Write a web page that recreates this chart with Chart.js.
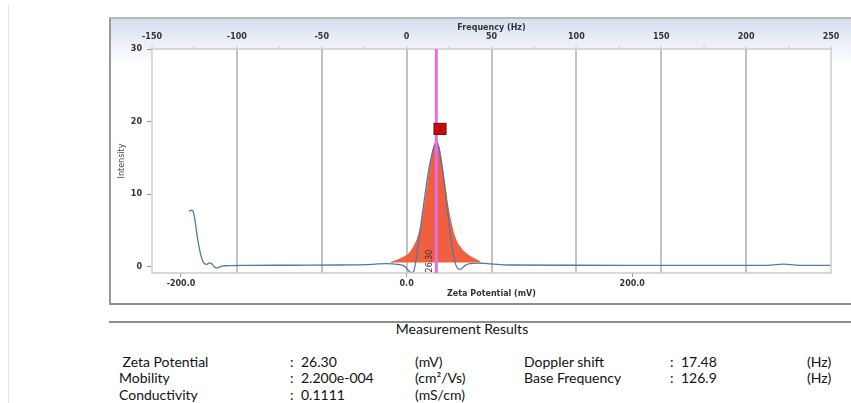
<!DOCTYPE html>
<html>
<head>
<meta charset="utf-8">
<script src="https://cdn.jsdelivr.net/npm/chart.js@4.4.1/dist/chart.umd.min.js"></script>
<style>
  body { margin:0; width:851px; height:403px; background:#fff; position:relative; overflow:hidden; font-family: Lato, "Open Sans", sans-serif; color:#111; }
  #edge { position:absolute; left:8px; top:5px; width:1px; height:398px; background:#e4e4e4; }
  #box { position:absolute; left:109px; top:17px; width:742px; height:288px; border-top:2px solid #b9b9b9; border-left:2px solid #9a9a9a; border-bottom:2px solid #8c8c8c; box-sizing:border-box; background:linear-gradient(#d6dfed 0px, #eaeff7 22px, #fff 48px); }
  #wrap { position:absolute; left:109px; top:18px; width:742px; height:285px; }
  #sep { position:absolute; left:109px; top:321px; width:742px; height:2px; background:#8e8e8e; }
  .t { position:absolute; font-size:14px; white-space:pre; line-height:16px; }
</style>
</head>
<body>
<div id="edge"></div>
<div id="box"></div>
<div id="wrap"><canvas id="zetaChart" width="742" height="285"></canvas></div>
<div id="sep"></div>
<div id="results"></div>
<script>
// ---- data ----
const hzToMv = 26.30 / 17.48;          // zeta potential per Hz of doppler shift
const freqMin = -150, freqMax = 250;
const zetaTicks = [-200, 0, 200];
const zetaPeak = 26.30;

// measured spectrum (blue line)
const curveZeta = [-192.9, -191, -189.5, -188, -186.5, -185, -183, -181, -179, -177, -175, -173, -171, -169, -167, -164, -160,
  -140, -100, -60, -30, -18, -12, -6, -2, 1, 4, 6, 8, 10, 13, 16, 19, 22, 24.5, 26.5, 28.5, 31, 33.5, 35.5, 37.5, 39.5,
  41.5, 43.5, 45.5, 47, 49, 52, 56, 62, 75, 90, 150, 250, 320, 328, 334, 340, 348, 376];
const curveIntensity = [7.6, 7.8, 7.7, 6.8, 5.2, 3.6, 2.0, 0.9, 0.4, 0.35, 0.55, 0.45, 0.1, -0.15, -0.1, 0.1, 0.15,
  0.2, 0.22, 0.25, 0.35, 0.45, 0.4, 0.3, 0.1, -0.4, -0.8, -0.7, 0.6, 2.8, 6.2, 9.6, 12.8, 15.2, 16.6, 17.0, 16.4, 14.2, 11.5, 8.8, 6.0, 3.5,
  1.6, 0.3, -0.25, -0.35, -0.2, 0.2, 0.45, 0.5, 0.4, 0.25, 0.22, 0.2, 0.2, 0.3, 0.38, 0.3, 0.2, 0.2];

// fitted peak (red area)
const peakZeta = [-14, -8, -2, 3, 7, 10, 13, 16, 19, 22, 24.5, 26.3, 28, 30.5, 33.5, 36.5, 40, 44, 48, 53, 58, 63, 65.6];
const peakIntensity = [0.6, 0.95, 1.4, 2.0, 3.0, 4.1, 5.9, 8.6, 11.8, 15.0, 16.8, 17.3, 16.9, 15.0, 11.6, 8.4, 5.6, 3.6, 2.6, 1.8, 1.3, 0.9, 0.6];
const peakBase = 0.6;

// peak marker "1"
const markerZeta = 29.6, markerIntensity = 19.0;

// results table
const leftLabels = [" Zeta Potential", "Mobility", "Conductivity"];
const leftValues = ["26.30", "2.200e-004", "0.1111"];
const leftUnits = ["(mV)", "(cm\u00b2/Vs)", "(mS/cm)"];
const rightLabels = ["Doppler shift", "Base Frequency"];
const rightValues = ["17.48", "126.9"];
const rightUnits = ["(Hz)", "(Hz)"];

Chart.defaults.font.family = "'DejaVu Sans', Verdana, sans-serif";

const overlay = {
  id: "overlay",
  beforeDraw(chart) {
    const { ctx, chartArea: a } = chart;
    ctx.save();
    ctx.fillStyle = "#fff";
    ctx.fillRect(a.left, a.top, a.right - a.left, a.bottom - a.top);
    ctx.restore();
  },
  afterDatasetsDraw(chart) {
    const { ctx, chartArea: a, scales } = chart;
    const px = scales.x.getPixelForValue(zetaPeak);
    ctx.save();
    ctx.strokeStyle = "#cdcdcd";
    ctx.lineWidth = 1.5;
    ctx.strokeRect(a.left, a.top, a.right - a.left, a.bottom - a.top);

    ctx.strokeStyle = "#e06ee6";
    ctx.lineWidth = 3;
    ctx.beginPath();
    ctx.moveTo(px, a.top);
    ctx.lineTo(px, a.bottom);
    ctx.stroke();

    // rotated peak value
    ctx.save();
    ctx.translate(px - 6, a.bottom - 12);
    ctx.rotate(-Math.PI / 2);
    ctx.fillStyle = "#333";
    ctx.font = "8px 'DejaVu Sans'";
    ctx.textAlign = "center";
    ctx.textBaseline = "middle";
    ctx.fillText(zetaPeak.toFixed(2), 0, 0);
    ctx.restore();

    // marker
    const mx = scales.x.getPixelForValue(markerZeta);
    const my = scales.y.getPixelForValue(markerIntensity);
    ctx.fillStyle = "#d30a0a";
    ctx.strokeStyle = "#6e0000";
    ctx.lineWidth = 1;
    ctx.fillRect(mx - 6, my - 5.5, 12, 11);
    ctx.strokeRect(mx - 6, my - 5.5, 12, 11);
    ctx.fillStyle = "#3a0000";
    ctx.font = "7px 'DejaVu Sans'";
    ctx.textAlign = "center";
    ctx.textBaseline = "middle";
    ctx.fillText("1", mx, my + 0.5);
    ctx.restore();
  }
};

const tickFont = { size: 8, weight: "bold" };

new Chart(document.getElementById("zetaChart"), {
  type: "line",
  data: {
    datasets: [
      {
        label: "curve",
        data: curveZeta.map((z, i) => ({ x: z, y: curveIntensity[i] })),
        borderColor: "#5677a4",
        borderWidth: 1.3,
        pointRadius: 0,
        fill: false,
        cubicInterpolationMode: "monotone",
        order: 0
      },
      {
        label: "peak",
        data: peakZeta.map((z, i) => ({ x: z, y: peakIntensity[i] })),
        borderColor: "#f0603f",
        backgroundColor: "#f0603f",
        borderWidth: 1,
        pointRadius: 0,
        fill: { value: peakBase },
        cubicInterpolationMode: "monotone",
        order: 1
      }
    ]
  },
  options: {
    responsive: false,
    animation: false,
    layout: { padding: { left: 0, top: 0, right: 20, bottom: 0 } },
    plugins: { legend: { display: false }, tooltip: { enabled: false } },
    scales: {
      x: {
        type: "linear",
        position: "bottom",
        min: freqMin * hzToMv,
        max: freqMax * hzToMv,
        afterBuildTicks: (s) => { s.ticks = zetaTicks.map((v) => ({ value: v })); },
        afterFit: (s) => { s.height = 30; },
        grid: { drawOnChartArea: false, drawTicks: true, tickLength: 4, tickColor: "#999" },
        border: { display: false },
        ticks: { autoSkip: false, maxRotation: 0, padding: 2,
          callback: (v) => Number(v).toFixed(1), font: tickFont, color: "#333" },
        title: { display: true, text: "Zeta Potential (mV)", padding: { top: 0, bottom: 4 }, font: tickFont, color: "#333" }
      },
      x2: {
        type: "linear",
        position: "top",
        min: freqMin,
        max: freqMax,
        afterFit: (s) => { s.height = 31; },
        grid: {
          color: (c) => (c.tick && c.tick.value % 50 === 0 && c.tick.value > freqMin && c.tick.value < freqMax) ? "#c2c2c2" : "rgba(0,0,0,0)",
          lineWidth: 2,
          drawTicks: true,
          tickLength: 3,
          tickWidth: 1,
          tickColor: "#c8c8c8"
        },
        border: { display: false },
        ticks: { stepSize: 25, includeBounds: false, autoSkip: false, maxRotation: 0, padding: 4,
          callback: (v) => (v % 50 === 0 ? String(v) : ""), font: tickFont, color: "#333" },
        title: { display: true, text: "Frequency (Hz)", padding: { top: 5, bottom: 0 }, font: tickFont, color: "#333" }
      },
      y: {
        min: -0.85,
        max: 30,
        afterFit: (s) => { s.width = 43; },
        grid: { drawOnChartArea: false, drawTicks: true, tickLength: 5, tickColor: "#999" },
        border: { display: false },
        ticks: { stepSize: 10, includeBounds: false, padding: 5, font: tickFont, color: "#333" },
        title: { display: true, text: "Intensity", padding: { top: 8, bottom: 0 }, font: { size: 8 }, color: "#444" }
      }
    }
  },
  plugins: [overlay]
});

// ---- results table ----
const results = document.getElementById("results");
function addText(text, left, centerY, extra) {
  const d = document.createElement("div");
  d.className = "t";
  d.textContent = text;
  d.style.left = left + "px";
  d.style.top = (centerY - 8) + "px";
  if (extra) Object.assign(d.style, extra);
  results.appendChild(d);
}
addText("Measurement Results", 462, 329, { transform: "translateX(-50%)" });
const rowY = [362, 378, 395];
leftLabels.forEach((lab, i) => {
  addText(lab, 119, rowY[i]);
  addText(":", 290, rowY[i]);
  addText(leftValues[i], 301, rowY[i]);
  addText(leftUnits[i], 415, rowY[i]);
});
rightLabels.forEach((lab, i) => {
  addText(lab, 524, rowY[i]);
  addText(":", 670, rowY[i]);
  addText(rightValues[i], 681, rowY[i]);
  addText(rightUnits[i], 807, rowY[i]);
});
</script>
</body>
</html>
